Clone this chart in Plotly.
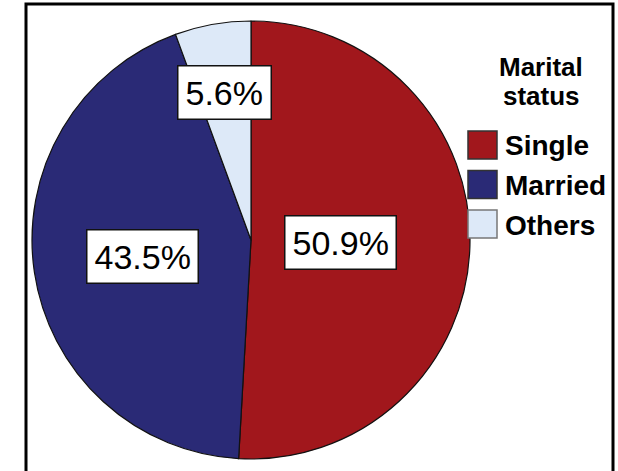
import math
import plotly.graph_objects as go

# Marital status distribution
categories = ["Single", "Married", "Others"]
shares = [50.9, 43.5, 5.6]
colors = ["#a1171c", "#2a2a76", "#dde9f8"]
legend_title = ["Marital", "status"]

W, H = 618, 471
CX, CY, R = 251, 240, 219          # pie centre and radius in pixels
FONT = "Liberation Sans, Arial, sans-serif"

def px_x(p):
    return p / W

def px_y(p):
    return 1 - p / H

fig = go.Figure()
fig.add_trace(go.Pie(
    labels=categories,
    values=shares,
    sort=False,
    direction="clockwise",
    rotation=0,
    marker=dict(colors=colors, line=dict(color="#111111", width=1.2)),
    textinfo="none",
    hoverinfo="label+percent",
    showlegend=False,
    domain=dict(x=[px_x(CX - R), px_x(CX + R)], y=[px_y(CY + R), px_y(CY - R)]),
))

# percentage call-outs placed along each slice's mid-angle
radial = {"Single": 0.41, "Married": 0.50, "Others": 0.685}
total = sum(shares)
acc = 0.0
annotations = []
for cat, v in zip(categories, shares):
    mid = (acc + v / 2) / total * 2 * math.pi
    acc += v
    f = radial[cat] * R
    x = CX + f * math.sin(mid)
    y = CY - f * math.cos(mid)
    annotations.append(dict(
        x=px_x(x), y=px_y(y), xref="paper", yref="paper",
        text=f"{v:.1f}%", showarrow=False,
        font=dict(family=FONT, size=34, color="black"),
        bgcolor="white", bordercolor="#111111", borderwidth=1.5, borderpad=7,
        xanchor="center", yanchor="middle",
    ))

# legend block
for i, line in enumerate(legend_title):
    annotations.append(dict(
        x=px_x(541), y=px_y(67 + 29 * i), xref="paper", yref="paper",
        text=f"<b>{line}</b>", showarrow=False,
        font=dict(family=FONT, size=26, color="black"),
        xanchor="center", yanchor="middle",
    ))

shapes = []
for i, (cat, c) in enumerate(zip(categories, colors)):
    yc = 145 + 39.5 * i
    shapes.append(dict(
        type="rect", xref="paper", yref="paper",
        x0=px_x(468), x1=px_x(497), y0=px_y(yc + 14), y1=px_y(yc - 14),
        fillcolor=c, line=dict(color="#333333" if i < 2 else "#777777", width=1.5),
    ))
    annotations.append(dict(
        x=px_x(503), y=px_y(yc + 1), xref="paper", yref="paper",
        text=f"<b>{cat}</b>", showarrow=False,
        font=dict(family=FONT, size=28, color="black"),
        xanchor="left", yanchor="middle",
    ))

# outer frame
shapes.append(dict(
    type="rect", xref="paper", yref="paper",
    x0=px_x(26), x1=px_x(613), y0=-0.2, y1=px_y(4),
    line=dict(color="black", width=3), fillcolor="rgba(0,0,0,0)",
))

fig.update_layout(
    width=W, height=H,
    margin=dict(l=0, r=0, t=0, b=0),
    paper_bgcolor="white", plot_bgcolor="white",
    annotations=annotations, shapes=shapes,
    showlegend=False,
)

fig.write_html("out.html")
